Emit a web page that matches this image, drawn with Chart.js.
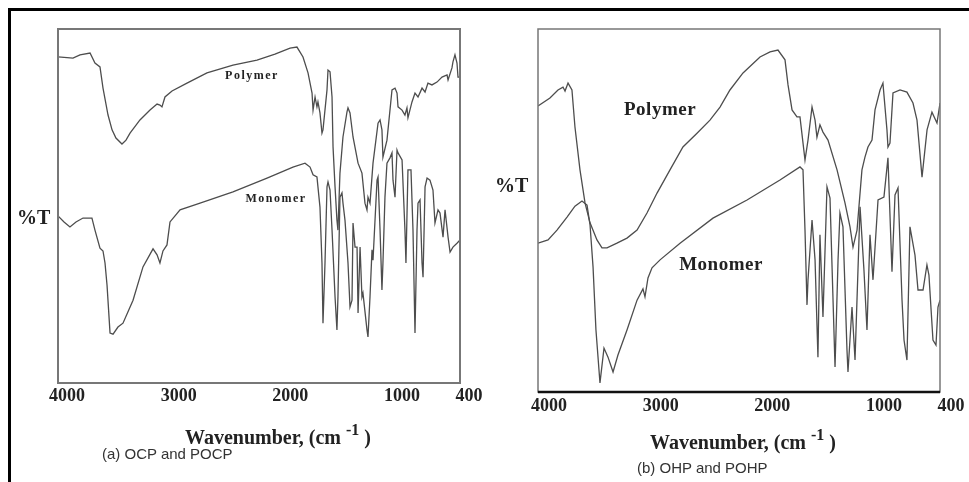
<!DOCTYPE html>
<html>
<head>
<meta charset="utf-8">
<script src="https://cdn.jsdelivr.net/npm/chart.js@4.4.1/dist/chart.umd.min.js"></script>
<style>
  body { margin: 0; background: #fff; width: 969px; height: 482px; position: relative; overflow: hidden; }
  canvas { position: absolute; top: 0; }
  #chartA { left: 0; }
  #chartB { left: 484px; }
  .frame { position: absolute; left: 8px; top: 8px; width: 961px; height: 474px;
           border-top: 3px solid #000; border-left: 3px solid #000; box-sizing: border-box; }
  .lbl { position: absolute; white-space: nowrap; font-family: "Liberation Serif", serif;
         font-weight: bold; color: #222; font-size: 20px; line-height: 20px; }
  .lbl .sup { font-size: 16px; position: relative; top: -9px; }
  .cap { position: absolute; white-space: nowrap; font-family: "Liberation Sans", Arial, sans-serif;
         font-size: 15px; line-height: 15px; color: #333; }
</style>
</head>
<body>
<div class="frame"></div>
<canvas id="chartA" width="484" height="482"></canvas>
<canvas id="chartB" width="485" height="482"></canvas>

<div class="lbl" style="left:17px; top:207px;">%T</div>
<div class="lbl" style="left:495px; top:175px;">%T</div>
<div class="lbl" style="left:185px; top:427px;">Wavenumber, (cm <span class="sup">-1</span> )</div>
<div class="lbl" style="left:650px; top:432px;">Wavenumber, (cm <span class="sup">-1</span> )</div>
<div class="cap" style="left:102px; top:446px;">(a) OCP and POCP</div>
<div class="cap" style="left:637px; top:460px;">(b) OHP and POHP</div>

<script>
// x tick labels shared by both panels
const xTicks = [4000, 3000, 2000, 1000, 400];

// (a) OCP / POCP
const wnPolyA = [4000,3866,3803,3713,3669,3624,3597,3552,3516,3481,3427,3391,3355,3266,3176,3113,3087,3069,3042,2979,
  2845,2666,2433,2218,2057,1922,1860,1806,1761,1725,1716,1698,1681,1672,1654,1636,1627,1591,1582,1564,
  1546,1537,1519,1502,1493,1475,1448,1412,1403,1385,1358,1313,1278,1251,1233,1224,1206,1179,1134,1116,
  1099,1090,1054,1009,982,964,955,919,893,875,866,830,803,776,740,713,687,651,606,561,
  516,507,472,463,445,427,418,400];
const tPolyA = [92.1,91.8,92.7,93.2,90.4,89.3,83.3,75.7,71.5,69.2,67.5,68.6,70.6,74.3,77.1,78.8,78.5,78.0,80.8,82.5,
  84.7,87.6,89.8,91.2,92.9,94.6,94.9,92.1,87.6,81.9,77.1,80.8,78.0,79.4,76.3,70.6,71.5,82.8,88.4,87.9,
  80.8,66.7,55.4,46.0,43.2,59.3,69.5,76.6,77.7,76.3,69.5,62.1,59.3,50.8,48.9,52.5,50.8,62.1,73.4,74.3,
  71.5,63.8,68.6,82.8,83.3,81.9,78.0,77.1,75.7,77.7,74.9,79.4,81.9,80.8,83.3,82.2,84.7,84.2,85.0,86.4,
  87.0,85.6,89.0,90.7,92.7,90.4,86.4,86.4];
const wnMonoA = [4000,3946,3893,3839,3776,3696,3669,3624,3597,3579,3561,3534,3507,3463,3418,3328,3239,3149,3113,3087,
  3060,3024,2997,2907,2728,2433,2128,1896,1788,1743,1716,1681,1654,1636,1627,1609,1591,1582,1564,1546,
  1519,1502,1493,1475,1457,1448,1430,1403,1385,1367,1358,1340,1322,1313,1295,1278,1269,1233,1224,1206,
  1188,1179,1143,1134,1116,1099,1090,1072,1054,1027,1009,1000,982,964,955,919,893,884,866,839,
  821,803,785,776,758,740,731,713,695,669,642,624,597,579,552,534,507,489,463,427,400];
const tMonoA = [47.2,45.5,44.1,45.5,46.6,46.6,43.2,38.1,37.3,33.9,27.7,14.1,13.8,15.8,16.9,23.4,32.8,37.9,36.2,33.9,
  37.3,39.0,45.5,48.9,50.8,54.0,57.9,61.0,62.1,61.0,58.8,58.2,49.7,33.9,16.9,33.9,55.4,56.8,54.5,43.2,
  24.3,15.0,24.3,52.5,53.7,50.8,46.0,33.9,21.5,23.4,45.2,38.4,38.4,19.8,38.4,24.3,25.4,15.0,13.0,24.3,
  37.6,34.7,57.3,58.2,43.2,26.3,33.9,52.5,62.1,63.6,65.0,57.3,52.5,65.8,65.0,63.0,43.2,33.9,60.2,60.2,
  43.2,14.1,43.2,50.8,51.7,33.9,29.9,55.4,57.9,57.3,54.5,45.2,48.9,48.0,41.2,48.9,41.2,37.0,38.4,39.5,40.4];

// (b) OHP / POHP
const wnPolyB = [4000,3893,3821,3776,3758,3731,3696,3669,3624,3579,3534,3472,3427,3382,3293,3203,3113,3024,2934,2818,
  2702,2576,2460,2370,2281,2164,2012,1922,1851,1788,1761,1725,1681,1654,1609,1582,1546,1519,1502,1475,
  1448,1403,1322,1251,1206,1179,1143,1099,1072,1045,1009,982,937,911,875,866,848,821,758,696,
  642,606,561,516,472,427,400];
const tPolyB = [78.8,81.0,83.2,84.0,82.9,85.1,83.2,73.0,61.2,52.1,46.6,41.9,39.7,39.7,41.0,42.4,44.6,49.3,54.8,61.2,
  67.5,71.3,74.9,78.5,83.2,87.9,92.3,93.7,94.2,91.5,84.6,77.7,75.8,75.8,63.9,69.4,78.5,74.9,70.2,73.6,
  71.6,69.4,61.2,52.1,45.5,39.9,44.6,61.2,64.7,67.5,69.4,77.7,83.2,85.1,72.2,67.5,68.6,82.4,83.2,82.6,
  79.6,74.9,59.2,72.2,77.1,74.1,79.6];
const wnMonoB = [4000,3910,3830,3740,3669,3606,3561,3534,3507,3481,3445,3409,3373,3328,3284,3203,3113,3060,3042,3015,
  2979,2907,2728,2433,2128,1833,1654,1627,1609,1591,1582,1546,1519,1493,1475,1448,1412,1385,1340,1313,
  1296,1269,1233,1224,1188,1161,1116,1081,1054,1027,1000,955,902,866,830,803,776,740,722,696,
  669,624,597,552,517,499,463,436,418,400];
const tMonoB = [41.0,41.9,44.6,48.2,51.2,52.6,51.5,46.0,34.4,17.1,2.5,12.1,9.6,5.5,10.2,17.1,25.3,28.4,26.2,31.4,
  34.2,36.4,41.0,47.9,52.9,58.4,62.0,61.2,44.6,24.0,30.9,47.4,36.4,9.6,43.3,20.7,56.5,53.4,6.9,36.4,
  49.3,45.5,11.6,5.5,23.4,8.8,51.0,33.6,17.1,43.3,30.9,52.9,53.7,64.5,33.1,54.3,56.2,25.3,14.3,8.8,
  45.5,37.7,28.1,28.1,35.0,32.2,14.3,12.9,23.4,25.3];

// curve names written next to the traces
const curveNames = ["Polymer", "Monomer"];
const nameWnA = [2263, 2048];
const nameTA = [86.7, 52.0];
const nameWnB = [2907, 2361];
const nameTB = [77.7, 35.0];

const pts = (xs, ys) => xs.map((v, i) => ({ x: v, y: ys[i] }));

// draws the plot frame and the curve names
const curveText = {
  id: "curveText",
  afterDatasetsDraw(chart, args, o) {
    const { ctx, chartArea: a } = chart;
    const x = chart.scales.x, y = chart.scales.y;
    ctx.save();
    ctx.strokeStyle = o.frameColor;
    ctx.lineWidth = o.frameWidth;
    ctx.strokeRect(a.left, a.top, a.right - a.left, a.bottom - a.top);
    if (o.baseWidth) {
      ctx.strokeStyle = "#111";
      ctx.lineWidth = o.baseWidth;
      ctx.beginPath();
      ctx.moveTo(a.left, a.bottom);
      ctx.lineTo(a.right, a.bottom);
      ctx.stroke();
    }
    ctx.font = o.font;
    ctx.letterSpacing = o.spacing;
    ctx.fillStyle = "#222";
    ctx.textAlign = "center";
    ctx.textBaseline = "middle";
    curveNames.forEach((t, i) => {
      ctx.fillText(t, x.getPixelForValue(o.wn[i]), y.getPixelForValue(o.t[i]));
    });
    ctx.restore();
  }
};

function makeChart(id, poly, mono, pad, tickPad, offset, textOpts) {
  return new Chart(document.getElementById(id), {
    type: "scatter",
    data: {
      datasets: [
        { data: poly, showLine: true, borderColor: "#4d4d4d", borderWidth: 1.3, pointRadius: 0 },
        { data: mono, showLine: true, borderColor: "#4d4d4d", borderWidth: 1.3, pointRadius: 0 }
      ]
    },
    options: {
      responsive: false,
      animation: false,
      layout: { padding: pad },
      plugins: {
        legend: { display: false },
        tooltip: { enabled: false },
        curveText: textOpts
      },
      scales: {
        x: {
          type: "linear",
          reverse: true,
          min: 400,
          max: 4000,
          afterBuildTicks: s => { s.ticks = xTicks.map(v => ({ value: v })); },
          afterFit: s => { s.height = 20; },
          grid: { display: false, drawTicks: false },
          border: { display: false },
          ticks: {
            autoSkip: false, maxRotation: 0, padding: tickPad, labelOffset: offset,
            color: "#222",
            font: { family: "Liberation Serif", weight: "bold", size: 18 },
            callback: v => String(v)
          }
        },
        y: { display: false, min: 0, max: 100 }
      }
    },
    plugins: [curveText]
  });
}

makeChart("chartA", pts(wnPolyA, tPolyA), pts(wnMonoA, tMonoA),
  { left: 58, top: 29, right: 24, bottom: 79 }, 3, 9,
  { frameColor: "#777", frameWidth: 2, baseWidth: 0, font: "bold 12px 'Liberation Serif'", spacing: "1.5px",
    wn: nameWnA, t: nameTA });

makeChart("chartB", pts(wnPolyB, tPolyB), pts(wnMonoB, tMonoB),
  { left: 54, top: 29, right: 29, bottom: 70 }, 4, 11,
  { frameColor: "#777", frameWidth: 1.5, baseWidth: 2.5, font: "bold 19px 'Liberation Serif'", spacing: "0.5px",
    wn: nameWnB, t: nameTB });
</script>
</body>
</html>
